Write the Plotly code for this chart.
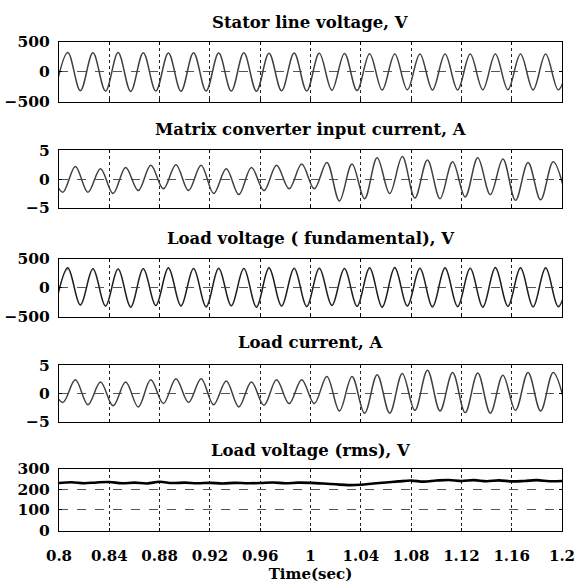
import numpy as np
import plotly.graph_objects as go

# ---------------- data ----------------
titles = ["Stator line voltage, V", "Matrix converter input current, A",
          "Load voltage ( fundamental), V", "Load current, A", "Load voltage (rms), V"]
x_tick_vals = [0.8, 0.84, 0.88, 0.92, 0.96, 1.0, 1.04, 1.08, 1.12, 1.16, 1.2]
x_tick_text = ["0.8", "0.84", "0.88", "0.92", "0.96", "1", "1.04", "1.08", "1.12", "1.16", "1.2"]
y_ticks_v = [-500, 0, 500]
y_ticks_i = [-5, 0, 5]
y_ticks_rms = [0, 100, 200, 300]

# extrema (alternating trough/peak) every 10 ms, first one at 0.797 s
t_volt = [round(0.797 + 0.01 * i, 4) for i in range(42)]
stator_v = [-315, 324, -313, 318, -320, 322, -325, 320, -318, 316, -322, 320,
            -318, 315, -320, 318, -322, 312, -315, 316, -318, 310, -305, 308,
            -310, 305, -302, 300, -298, 300, -302, 298, -300, 297, -298, 300,
            -296, 298, -300, 297, -298, 300]
load_v_fund = [-330, 345, -300, 330, -320, 325, -340, 330, -310, 345, -320, 335,
               -335, 340, -315, 335, -340, 345, -320, 340, -330, 340, -310, 335,
               -325, 345, -340, 350, -320, 340, -335, 345, -330, 340, -340, 350,
               -325, 345, -335, 345, -330, 340]
load_v_meas = [-315, 325, -290, 315, -310, 315, -325, 318, -300, 330, -305, 322,
               -320, 325, -305, 322, -325, 330, -310, 325, -315, 328, -300, 322,
               -312, 330, -325, 335, -308, 325, -320, 330, -318, 326, -325, 335,
               -312, 330, -320, 330, -318, 326]

# current extrema (alternating peak/trough) every 10 ms, first one at 0.793 s
t_curr = [round(0.793 + 0.01 * i, 4) for i in range(42)]
input_i = [2.0, -2.3, 2.2, -2.3, 1.8, -2.5, 2.0, -2.0, 2.4, -1.7, 2.5, -2.0,
           2.4, -2.5, 1.8, -2.7, 2.0, -2.0, 2.4, -1.7, 2.6, -1.7, 2.9, -3.8,
           2.6, -3.4, 3.7, -2.5, 3.9, -3.3, 3.3, -3.4, 3.0, -3.1, 3.7, -2.7,
           3.5, -3.7, 2.9, -3.6, 3.0, -3.0]
load_i = [1.8, -1.6, 2.4, -2.0, 2.0, -2.2, 2.0, -2.4, 2.4, -1.8, 2.6, -1.6,
          2.6, -2.0, 2.2, -2.4, 2.0, -2.1, 2.4, -1.8, 2.4, -1.8, 3.0, -3.1,
          3.0, -3.5, 3.3, -3.5, 3.5, -3.0, 4.1, -3.1, 3.7, -3.4, 3.6, -3.5,
          3.2, -3.0, 3.7, -3.1, 3.7, -2.5]

# rms load voltage every 10 ms from 0.8 s
t_rms = [round(0.8 + 0.01 * i, 4) for i in range(41)]
load_v_rms = [230, 234, 229, 233, 235, 229, 232, 228, 236, 230, 232, 229, 231, 228,
              231, 229, 230, 233, 229, 232, 231, 228, 224, 220, 222, 228, 233, 238,
              242, 237, 242, 245, 240, 244, 239, 243, 238, 240, 244, 239, 240]

# ---------------- layout constants ----------------
H, W = 585, 582
panel_px = [(33, 95), (145, 204.5), (257, 317), (367, 425.5), (474, 538)]
title_px = [13, 124, 236, 344, 455]
FONT = "DejaVu Serif"
WAVE = "#404040"

fig = go.Figure()

def add(x, y, idx, color=WAVE, width=1.5, shape="spline"):
    ax = "" if idx == 1 else str(idx)
    fig.add_trace(go.Scatter(x=x, y=y, mode="lines", xaxis="x" + ax, yaxis="y" + ax,
                             line=dict(color=color, width=width, shape=shape, smoothing=1.0),
                             showlegend=False, hoverinfo="skip"))

add(t_volt, stator_v, 1)
add(t_curr, input_i, 2)
add(t_volt, load_v_meas, 3, color="#8a8a8a", width=1.7)
add(t_volt, load_v_fund, 3, color="#111111", width=1.1)
add(t_curr, load_i, 4)
add(t_rms, load_v_rms, 5, color="#000000", width=2.6)

yranges = [[-500, 500], [-5, 5], [-500, 500], [-5, 5], [0, 300]]
yticks = [y_ticks_v, y_ticks_i, y_ticks_v, y_ticks_i, y_ticks_rms]

layout = dict(width=W, height=H, margin=dict(l=59, r=20, t=0, b=0),
              paper_bgcolor="white", plot_bgcolor="white", showlegend=False,
              font=dict(family=FONT, color="black"))
annotations = []
for k in range(5):
    ax = "" if k == 0 else str(k + 1)
    top, bot = panel_px[k]
    dom = [1 - bot / H, 1 - top / H]
    last = (k == 4)
    layout["xaxis" + ax] = dict(
        domain=[0, 1], anchor="y" + ax, range=[0.8, 1.2],
        tickvals=x_tick_vals, ticktext=x_tick_text, showticklabels=last,
        tickfont=dict(family=FONT, size=15, weight="bold", color="black"),
        showgrid=True, gridcolor="#222222", griddash="dot", gridwidth=1,
        showline=True, linecolor="black", linewidth=1, mirror="allticks",
        ticks="inside", ticklen=3, tickcolor="black", zeroline=False,
        ticklabelstandoff=11,
        title=dict(text="Time(sec)", font=dict(family=FONT, size=15, weight="bold"), standoff=2) if last else None,
    )
    layout["yaxis" + ax] = dict(
        domain=dom, anchor="x" + ax, range=yranges[k], tickvals=yticks[k],
        tickfont=dict(family=FONT, size=15.5, weight="bold", color="black"),
        showgrid=True, gridcolor="#555555", griddash="dash", gridwidth=1,
        showline=True, linecolor="black", linewidth=1, mirror="allticks",
        ticks="inside", ticklen=3, tickcolor="black", zeroline=False,
        ticklabelstandoff=5,
    )
    annotations.append(dict(text=titles[k], xref="paper", yref="paper", x=0.5,
                            y=1 - title_px[k] / H, xanchor="center", yanchor="middle",
                            showarrow=False,
                            font=dict(family=FONT, size=16.5, weight="bold", color="black")))
layout["annotations"] = annotations
fig.update_layout(**layout)
fig.write_html("out.html")
